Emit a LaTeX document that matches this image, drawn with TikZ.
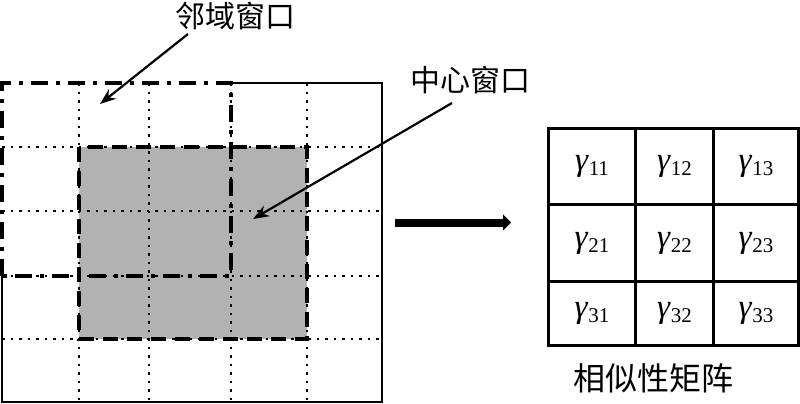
\documentclass[tikz,border=0pt]{standalone}
\usepackage{fontspec}
\setmainfont{Liberation Serif}
\newfontfamily\cjk{Noto Sans CJK SC}
\usetikzlibrary{arrows.meta}
\definecolor{cgray}{RGB}{178,178,178}
\newcommand{\gm}[1]{{\fontsize{33}{33}\selectfont\textit{γ}\raisebox{-5pt}{\fontsize{21}{21}\selectfont #1}}}
\begin{document}
\begin{tikzpicture}[x=1pt,y=-1pt,
  dotline/.style={line width=2.6pt, dash pattern=on 2.6pt off 5.9pt, line cap=butt},
  solidline/.style={line width=2.6pt},
  dashdot/.style={line width=4.2pt, dash pattern=on 17pt off 8pt on 4pt off 8pt},
  dashline/.style={line width=4.2pt, dash pattern=on 15pt off 9pt},
  pointer/.style={line width=2.2pt, -{Stealth[length=16pt,width=12pt]}},
  bigarrow/.style={line width=8pt, -{Triangle[length=8pt,width=16pt]}},
  cell/.style={draw, line width=3pt, inner sep=0pt, anchor=north west},
  cjklabel/.style={font=\cjk\fontsize{30}{30}\selectfont, inner sep=0pt}
]
\useasboundingbox (0,0) rectangle (800,404);
% center window fill
\fill[cgray] (79,147) rectangle (307,339);
% dotted grid
\foreach \x in {79,149,231,307} \draw[dotline] (\x,83) -- (\x,402);
\foreach \y in {147,211,276,339} \draw[dotline] (2,\y) -- (382,\y);
% outer frame (solid part)
\draw[solidline] (231,83) -- (382,83) -- (382,402) -- (2,402) -- (2,276);
% neighbourhood window
\draw[dashdot] (2,276) -- (2,83) -- (231,83) -- (231,276) -- (2,276);
% center window
\draw[dashline] (79,147) rectangle (307,339);
% labels and pointers
\node[cjklabel] (nb) at (235,16) {邻域窗口};
\node[cjklabel] (ct) at (470,80) {中心窗口};
\coordinate (nbs) at (188,34);
\coordinate (nbe) at (100,104);
\coordinate (cts) at (452,103);
\coordinate (cte) at (253,219);
\draw[pointer] (nbs) -- (nbe);
\draw[pointer] (cts) -- (cte);
% big arrow
\coordinate (as) at (395,222.5);
\coordinate (ae) at (511,222.5);
\draw[bigarrow] (as) -- (ae);
% matrix
\node[cell, minimum width=87pt, minimum height=76pt] (m11) at (547,127) {};
\node[cell, minimum width=78pt, minimum height=76pt] (m12) at (634,127) {};
\node[cell, minimum width=85pt, minimum height=76pt] (m13) at (712,127) {};
\node[cell, minimum width=87pt, minimum height=77pt] (m21) at (547,203) {};
\node[cell, minimum width=78pt, minimum height=77pt] (m22) at (634,203) {};
\node[cell, minimum width=85pt, minimum height=77pt] (m23) at (712,203) {};
\node[cell, minimum width=87pt, minimum height=64pt] (m31) at (547,280) {};
\node[cell, minimum width=78pt, minimum height=64pt] (m32) at (634,280) {};
\node[cell, minimum width=85pt, minimum height=64pt] (m33) at (712,280) {};
\foreach \r in {1,2,3} \foreach \c in {1,2,3}
  \node at (m\r\c.center) {\gm{\r\c}};
\node[cjklabel, font=\cjk\fontsize{32}{32}\selectfont] (lab) at (653,378) {相似性矩阵};
\end{tikzpicture}
\end{document}
